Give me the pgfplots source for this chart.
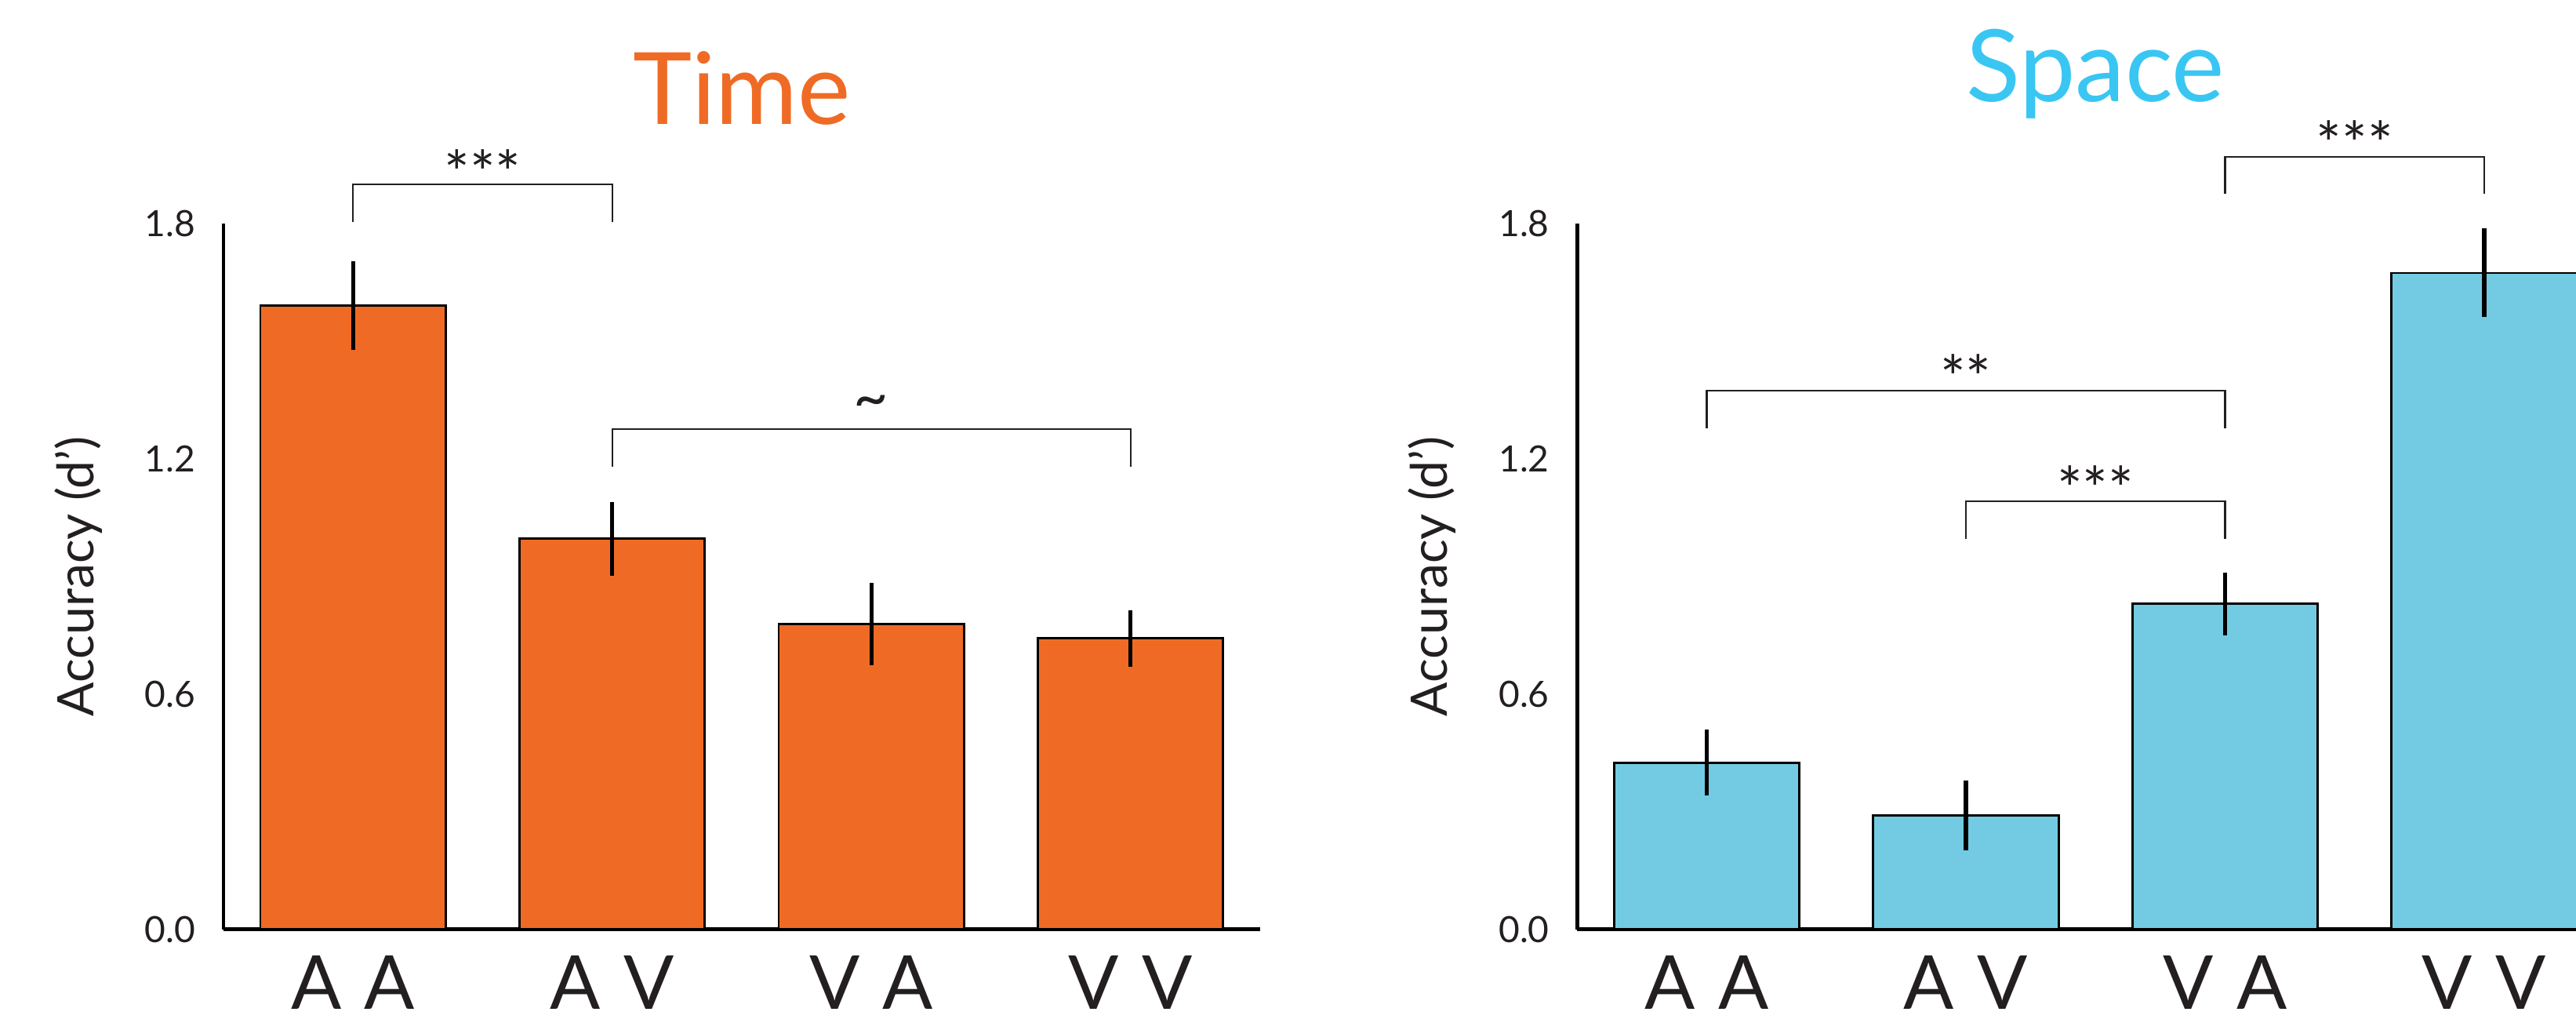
\documentclass[border=0pt]{standalone}
\usepackage{fontspec}
\setmainfont{Lato}
\usepackage{pgfplots}
\pgfplotsset{compat=1.18}
\definecolor{barorange}{RGB}{239,107,37}
\definecolor{barcyan}{RGB}{114,203,227}
\definecolor{titlecyan}{RGB}{58,198,242}
\definecolor{txt}{RGB}{35,31,32}

\pgfplotsset{
  every axis title shift=0pt,
  panel/.style={
    scale only axis, width=378.6pt, height=257.7pt,
    xmin=-0.5, xmax=3.5, ymin=0, ymax=1.8,
    axis x line*=bottom, axis y line*=left,
    axis line style={line width=1.3pt, black},
    xtick={0,1,2,3},
    xticklabels={A\hspace{0.31em}A, A\hspace{0.31em}V, V\hspace{0.31em}A, V\hspace{0.31em}V},
    ytick={0,0.6,1.2,1.8},
    yticklabels={0.0,0.6,1.2,1.8},
    major tick length=0pt,
    tick style={draw=none},
    xticklabel style={font=\fontsize{27.2}{30}\selectfont, text=txt, anchor=base, yshift=-29.2pt, inner sep=0pt, text depth=0pt},
    yticklabel style={font=\fontsize{13.2}{15}\selectfont, text=txt, anchor=east, xshift=-10pt, inner sep=0pt},
    ylabel={Accuracy (d’)},
    every axis y label/.style={at={(axis description cs:-0.1252,0.5)}, rotate=90, anchor=base, font=\fontsize{18.4}{20}\selectfont, text=txt, inner sep=0pt},
    ybar, bar width=0.715,
    clip=false,
  },
  bars/.style={draw=black, line width=0.8pt, fill=#1,
    error bars/.cd, y dir=both, y explicit, error mark=none,
    error bar style={line width=1.5pt, black}},
}
\tikzset{
  brk/.style={line width=0.6pt, draw=txt},
  stars/.style={font=\fontsize{22}{22}\selectfont, text=txt, inner sep=0pt, yshift=-4.5pt},
  tld/.style={font=\fontsize{22}{22}\selectfont, text=txt, inner sep=0pt},
}

\begin{document}
\begin{tikzpicture}
\path[use as bounding box] (0,0) rectangle (940.8pt,372pt);
\clip (0,0) rectangle (940.8pt,372pt);

% ---------------- Time ----------------
\begin{axis}[panel, at={(81.6pt,32.7pt)}, anchor=south west,
  title={Time},
  title style={at={(axis description cs:0.5,1.1406)}, anchor=base, font=\fontsize{36.5}{40}\selectfont, text=barorange, inner sep=0pt}]
\addplot[bars=barorange] coordinates {
  (0,1.591) +- (0,0.113)
  (1,0.996) +- (0,0.094)
  (2,0.778) +- (0,0.105)
  (3,0.742) +- (0,0.072)
};
\draw[brk] (axis cs:0,1.804) -- (axis cs:0,1.900) -- (axis cs:1,1.900) -- (axis cs:1,1.804);
\node[stars] at (axis cs:0.5,1.963) {***};
\draw[brk] (axis cs:1,1.180) -- (axis cs:1,1.276) -- (axis cs:3,1.276) -- (axis cs:3,1.180);
\node[tld] at (axis cs:2,1.333) {\textasciitilde};
\end{axis}

% ---------------- Space ----------------
\begin{axis}[panel, at={(576pt,32.7pt)}, anchor=south west,
  title={Space},
  title style={at={(axis description cs:0.5,1.1723)}, anchor=base, font=\fontsize{36.5}{40}\selectfont, text=titlecyan, inner sep=0pt}]
\addplot[bars=barcyan] coordinates {
  (0,0.425) +- (0,0.084)
  (1,0.291) +- (0,0.089)
  (2,0.830) +- (0,0.080)
  (3,1.674) +- (0,0.113)
};
\draw[brk] (axis cs:2,1.876) -- (axis cs:2,1.970) -- (axis cs:3,1.970) -- (axis cs:3,1.876);
\node[stars] at (axis cs:2.5,2.037) {***};
\draw[brk] (axis cs:0,1.278) -- (axis cs:0,1.373) -- (axis cs:2,1.373) -- (axis cs:2,1.278);
\node[stars] at (axis cs:1,1.44) {**};
\draw[brk] (axis cs:1,0.995) -- (axis cs:1,1.092) -- (axis cs:2,1.092) -- (axis cs:2,0.995);
\node[stars] at (axis cs:1.5,1.156) {***};
\end{axis}
\end{tikzpicture}
\end{document}
